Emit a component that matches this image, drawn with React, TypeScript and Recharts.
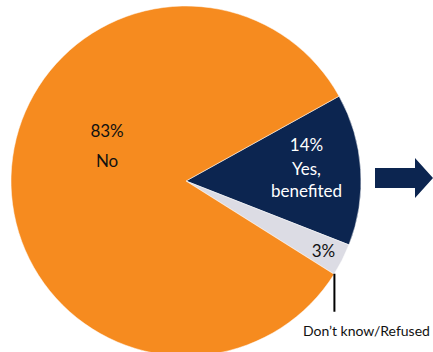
import { PieChart, Pie, Cell } from "recharts";

const categories = ["Yes, benefited", "Don't know/Refused", "No"];
const shares = [14, 3, 83];
const colors = ["#0C2550", "#DCDCE4", "#F68B1F"];

const data = categories.map((name, i) => ({ name, value: shares[i] }));

const RAD = Math.PI / 180;
const FONT = "Lato, 'Open Sans', sans-serif";

const renderLabel = (props: any) => {
  const { cx, cy, midAngle, outerRadius, index, value } = props;
  if (index === 0) {
    const r = outerRadius * 0.69;
    const x = cx + r * Math.cos(midAngle * RAD);
    const y = cy - r * Math.sin(midAngle * RAD);
    return (
      <text x={x} textAnchor="middle" fill="#fff" fontFamily={FONT} fontSize={17}>
        <tspan x={x} y={y - 22}>{`${value}%`}</tspan>
        <tspan x={x} y={y + 2}>Yes,</tspan>
        <tspan x={x} y={y + 24}>benefited</tspan>
      </text>
    );
  }
  if (index === 1) {
    const r = outerRadius * 0.88;
    const x = cx + r * Math.cos(midAngle * RAD);
    const y = cy - r * Math.sin(midAngle * RAD);
    // leader line from the rim near the slice edge
    const lx = cx + outerRadius * Math.cos(-32 * RAD);
    const ly = cy - outerRadius * Math.sin(-32 * RAD);
    return (
      <g>
        <text x={x} y={y + 7} textAnchor="middle" fill="#111" fontFamily={FONT} fontSize={17}>
          {`${value}%`}
        </text>
        <line x1={lx} y1={ly} x2={lx} y2={ly + 38} stroke="#000" strokeWidth={2} />
        <text x={lx + 32} y={ly + 62} textAnchor="middle" fill="#111" fontFamily={FONT} fontSize={14}>
          Don’t know/Refused
        </text>
      </g>
    );
  }
  const r = outerRadius * 0.48;
  const x = cx + r * Math.cos(160 * RAD);
  const y = cy - r * Math.sin(160 * RAD);
  return (
    <text x={x} textAnchor="middle" fill="#111" fontFamily={FONT} fontSize={17}>
      <tspan x={x} y={y - 15}>{`${value}%`}</tspan>
      <tspan x={x} y={y + 15}>No</tspan>
    </text>
  );
};

export default function App() {
  return (
    <div style={{ position: "absolute", left: 0, top: 0, width: 433, height: 352, background: "#fff" }}>
      <PieChart width={433} height={352} margin={{ top: 0, right: 0, bottom: 0, left: 0 }}>
        <Pie
          data={data}
          dataKey="value"
          nameKey="name"
          cx={186}
          cy={181}
          outerRadius={175}
          startAngle={29}
          endAngle={-331}
          stroke="#fff"
          strokeWidth={0.5}
          label={renderLabel}
          labelLine={false}
          isAnimationActive={false}
        >
          {data.map((entry, index) => (
            <Cell key={`cell-${index}`} fill={colors[index]} />
          ))}
        </Pie>
      </PieChart>
      <svg width={433} height={352} style={{ position: "absolute", left: 0, top: 0, pointerEvents: "none" }}>
        <polygon points="375,168 415,168 415,158 433,178 415,198 415,188 375,188" fill="#0C2550" />
      </svg>
    </div>
  );
}
